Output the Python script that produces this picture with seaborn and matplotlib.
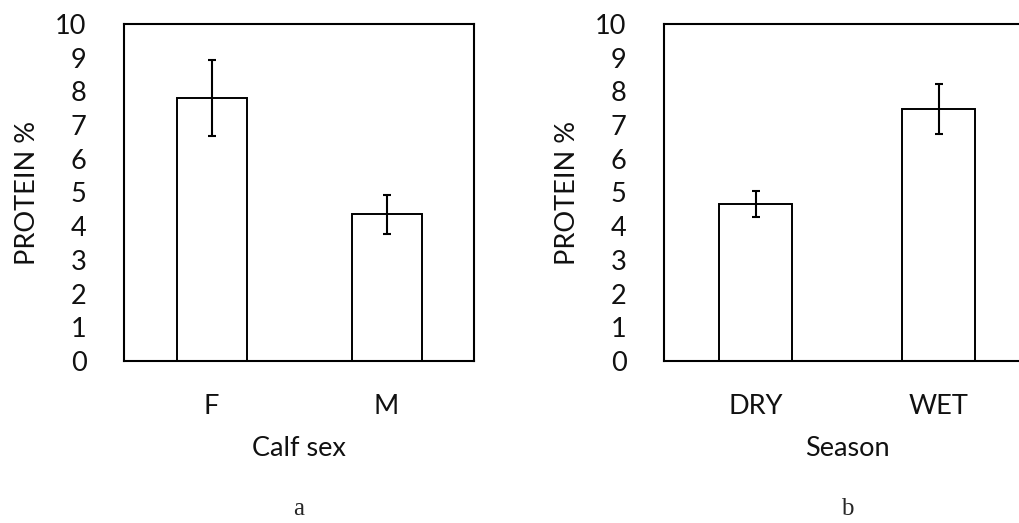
import matplotlib
matplotlib.use("Agg")
import matplotlib.pyplot as plt
import seaborn as sns
import pandas as pd

# panel a: calf sex
sex_labels = ["F", "M"]
sex_means = [7.8, 4.35]
sex_err = [1.13, 0.58]

# panel b: season
season_labels = ["DRY", "WET"]
season_means = [4.65, 7.47]
season_err = [0.39, 0.74]

y_ticks = list(range(0, 11))

sns.set_theme(style="white")
plt.rcParams["font.family"] = ["Lato", "DejaVu Sans"]

fig = plt.figure(figsize=(10.19, 5.23), dpi=100)
ax_a = fig.add_axes([124 / 1019, 162 / 523, 350 / 1019, 337 / 523])
ax_b = fig.add_axes([664 / 1019, 162 / 523, 366 / 1019, 337 / 523])


def draw_panel(ax, labels, means, errs, xlabel, letter):
    df = pd.DataFrame({"cat": labels, "val": means})
    sns.barplot(data=df, x="cat", y="val", ax=ax, color="white",
                edgecolor="black", linewidth=1.4, width=0.4, errorbar=None)
    ax.errorbar(range(len(labels)), means, yerr=errs, fmt="none",
                ecolor="black", elinewidth=1.5, capsize=3, capthick=1.5)
    ax.set_ylim(0, 10)
    ax.set_xlim(-0.5, len(labels) - 0.5)
    ax.set_yticks(y_ticks)
    ax.set_yticklabels([str(t) for t in y_ticks])
    ax.tick_params(axis="both", length=0, labelsize=19.5, colors="#111111")
    ax.tick_params(axis="y", pad=27)
    ax.tick_params(axis="x", pad=24)
    ax.set_ylabel("PROTEIN %", fontsize=19.5, labelpad=11, color="#111111")
    ax.set_xlabel(xlabel, fontsize=19.5, labelpad=12, color="#111111")
    for s in ax.spines.values():
        s.set_visible(True)
        s.set_color("black")
        s.set_linewidth(1.5)
    ax.text(0.5, -0.44, letter, transform=ax.transAxes, ha="center",
            va="center", fontsize=18, family="Liberation Serif")


draw_panel(ax_a, sex_labels, sex_means, sex_err, "Calf sex", "a")
draw_panel(ax_b, season_labels, season_means, season_err, "Season", "b")

fig.savefig("out.png", dpi=100)
